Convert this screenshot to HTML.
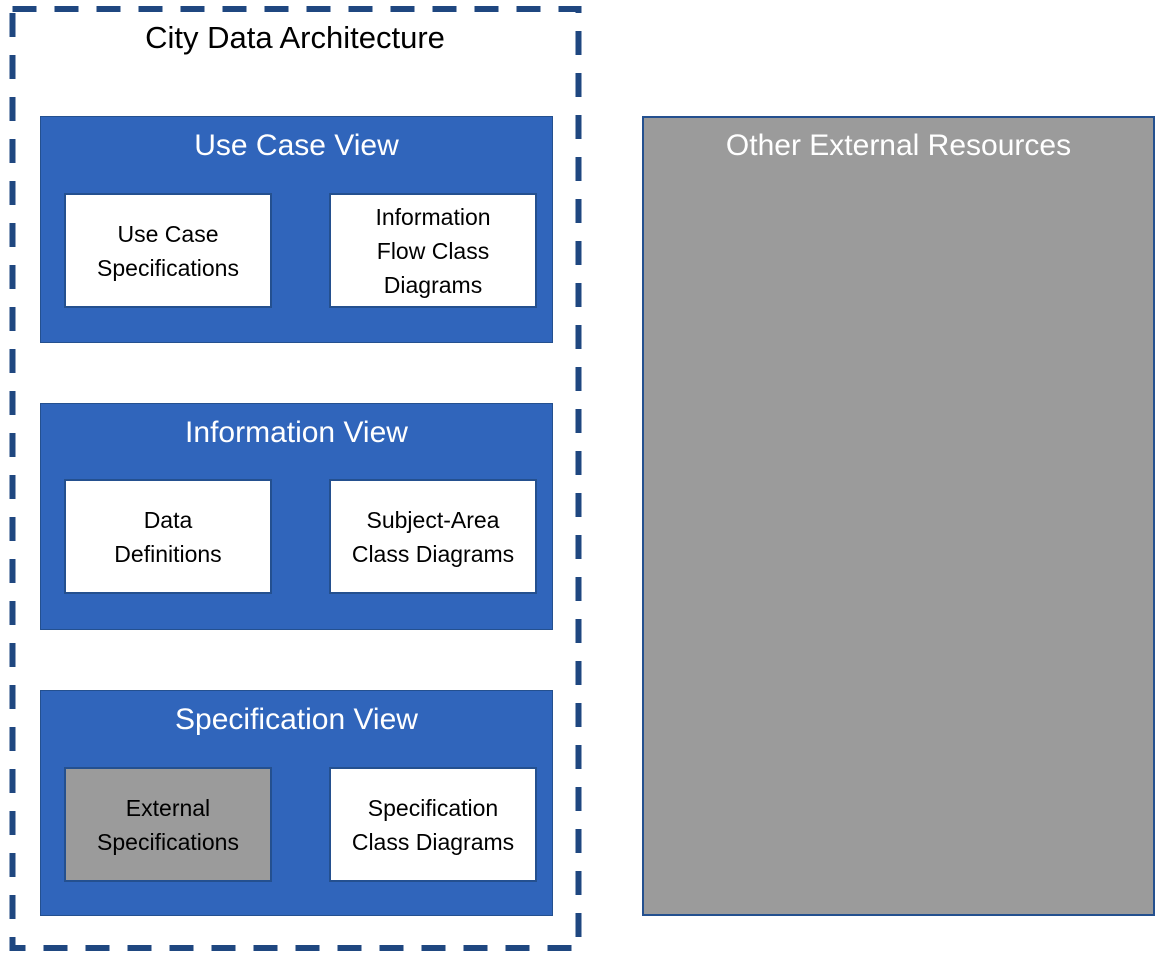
<!DOCTYPE html>
<html><head><style>
body{margin:0;width:1164px;height:963px;background:#fff;position:relative;overflow:hidden;font-family:"Liberation Sans",sans-serif;}
.v{position:absolute;left:40px;width:513px;background:#3065bb;border:1px solid #24508f;box-sizing:border-box;}
.vt{position:absolute;left:0;right:0;text-align:center;color:#fff;font-size:30px;top:12px;}
.b{position:absolute;width:208px;height:115px;background:#fff;border:2px solid #24508f;box-sizing:border-box;display:flex;align-items:center;justify-content:center;text-align:center;font-size:23px;line-height:34px;color:#000;}
</style></head><body>
<svg width="1164" height="963" style="position:absolute;left:0;top:0">
<rect x="12.5" y="9" width="566" height="939" fill="none" stroke="#1f4780" stroke-width="6" stroke-dasharray="24 18"/>
</svg>
<div style="position:absolute;left:10px;width:570px;top:20px;text-align:center;font-size:31px;">City Data Architecture</div>
<div class="v" style="top:116px;height:227px"><div class="vt">Use Case View</div>
<div class="b" style="left:23px;top:76px">Use Case<br>Specifications</div>
<div class="b" style="left:288px;top:76px">Information<br>Flow Class<br>Diagrams</div></div>
<div class="v" style="top:403px;height:227px"><div class="vt">Information View</div>
<div class="b" style="left:23px;top:75px">Data<br>Definitions</div>
<div class="b" style="left:288px;top:75px">Subject-Area<br>Class Diagrams</div></div>
<div class="v" style="top:690px;height:226px"><div class="vt">Specification View</div>
<div class="b" style="left:23px;top:76px;background:#9b9b9b">External<br>Specifications</div>
<div class="b" style="left:288px;top:76px">Specification<br>Class Diagrams</div></div>
<div style="position:absolute;left:642px;top:116px;width:513px;height:800px;background:#9b9b9b;border:2px solid #24508f;box-sizing:border-box;">
<div class="vt" style="top:11px">Other External Resources</div></div>
</body></html>
